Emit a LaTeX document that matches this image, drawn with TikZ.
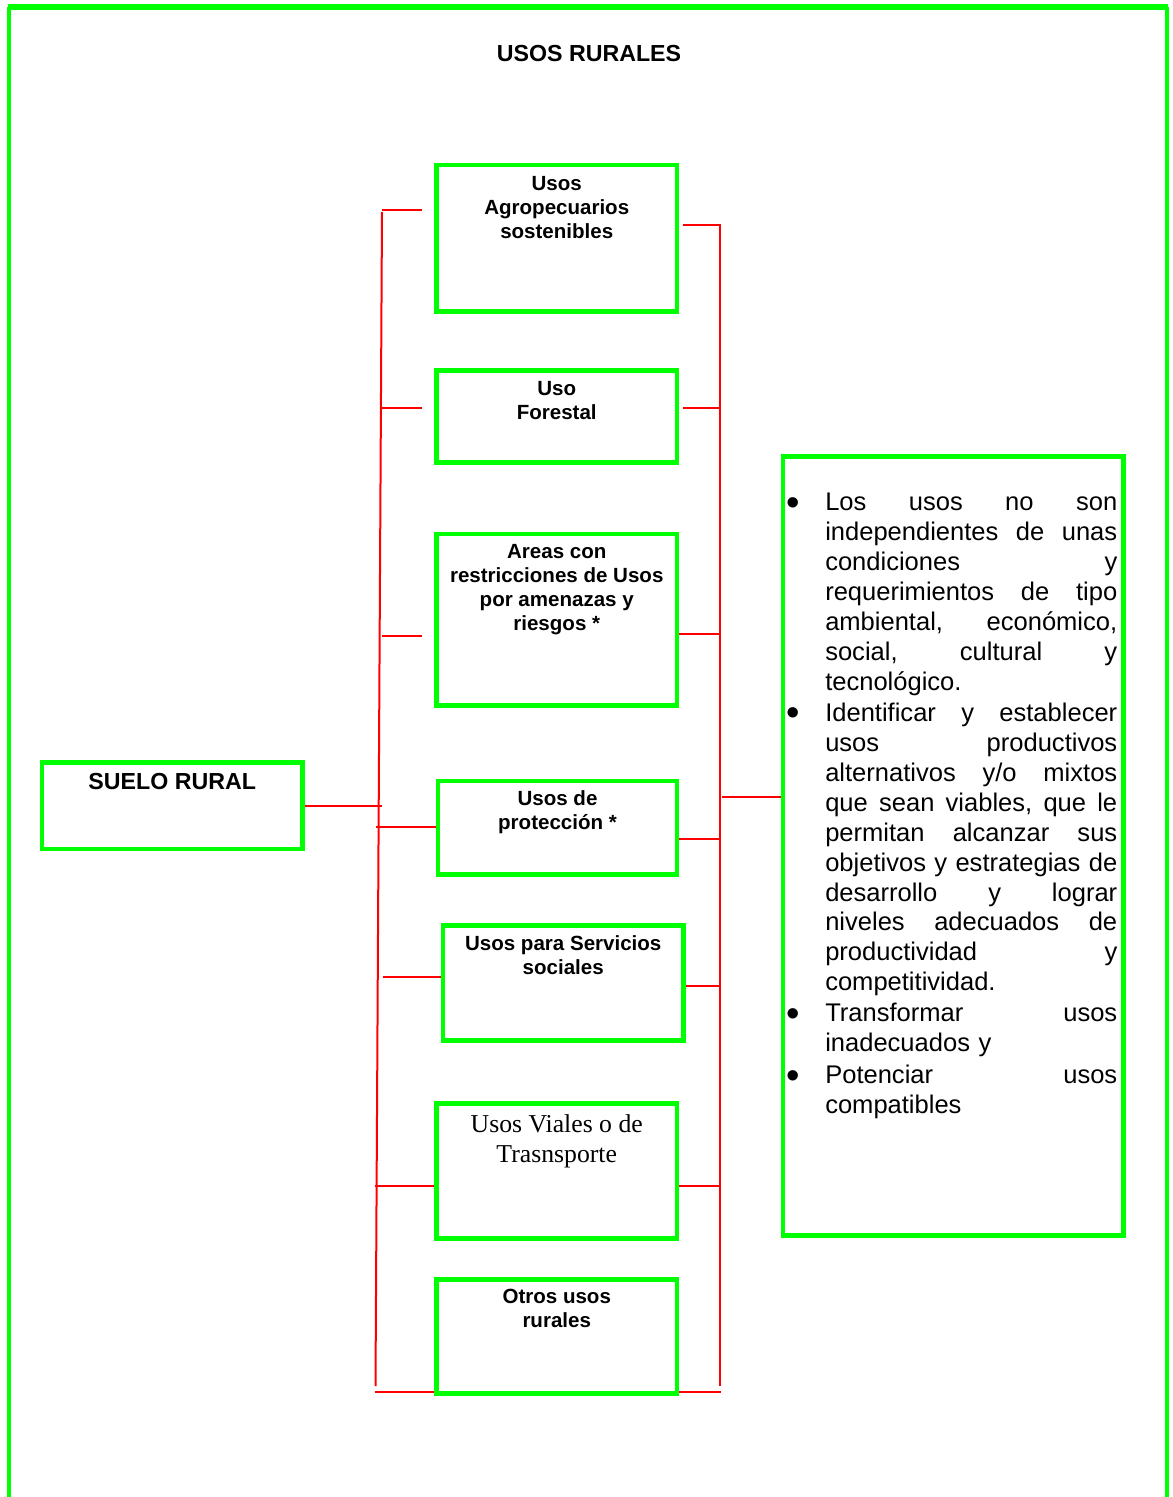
\documentclass[tikz,border=0pt]{standalone}
\usepackage{fontspec}
\usepackage{graphicx}
\newfontfamily\lsans{Liberation Sans}
\newfontfamily\tnr{Liberation Serif}
\definecolor{gr}{RGB}{0,255,0}
\definecolor{rd}{RGB}{255,0,0}
\newcommand\bul{\makebox[27.75pt][l]{\makebox[7.5pt][c]{\smash{\raisebox{-3.4pt}{\scalebox{1.5}{•}}}}}}
\newcommand\jbox[1]{\hbox to 219pt{\frenchspacing\spaceskip=\fontdimen2\font plus 1fil\relax #1}}
\newcommand\bitem[1]{\noindent\bul\jbox{#1}\par}
\newcommand\jline[1]{\noindent\hspace*{27.75pt}\jbox{#1}\par}
\newcommand\lline[1]{\noindent\hspace*{27.75pt}#1\par}
\begin{document}
\begin{tikzpicture}[x=0.75pt,y=-0.75pt,
  gbox/.style={draw=gr, line width=3.4pt, inner sep=0pt},
  lbl/.style={anchor=north, inner sep=0pt, align=center, font=\lsans\bfseries\fontsize{15.4}{18}\selectfont},
  rl/.style={draw=rd, line width=1.5pt},
  frame/.style={draw=gr, line width=2.6pt}]
\useasboundingbox (0,0) rectangle (1172,1497);
% outer frame
\draw[frame] (9,1497) -- (9,7);
\draw[frame] (1167,1497) -- (1167,7);
\draw[draw=gr, line width=4.5pt] (7.7,7) -- (1168.3,7);
% title
\node[anchor=north, inner sep=0pt, font=\lsans\bfseries\fontsize{17.4}{20}\selectfont] (title) at (589,45) {USOS RURALES};
% boxes
\node[gbox, minimum width=180.4pt, minimum height=109.9pt] (b1) at (556.75,238.25) {};
\node[gbox, minimum width=180.4pt, minimum height=69pt] (b2) at (556.75,416.5) {};
\node[gbox, minimum width=180.4pt, minimum height=128.6pt] (b3) at (556.75,619.75) {};
\node[gbox, minimum width=179.25pt, minimum height=70.1pt] (b4) at (557.5,827.75) {};
\node[gbox, minimum width=180.4pt, minimum height=86.25pt] (b5) at (563.25,983) {};
\node[gbox, minimum width=180.4pt, minimum height=101.25pt] (b6) at (556.75,1171) {};
\node[gbox, minimum width=180.4pt, minimum height=85.5pt] (b7) at (556.75,1336.5) {};
\node[gbox, minimum width=195.4pt, minimum height=64.9pt] (sr) at (172.25,805.75) {};
\node[gbox, minimum width=255.4pt, minimum height=584.25pt] (rb) at (953.25,846) {};
% labels
\node[lbl] (t1) at (556.75,176) {Usos\\Agropecuarios\\sostenibles};
\node[lbl] (t2) at (556.75,381) {Uso\\Forestal};
\node[lbl] (t3) at (556.75,544.5) {Areas con\\restricciones de Usos\\por amenazas y\\riesgos *};
\node[lbl] (t4) at (557.5,790.5) {Usos de\\protección *};
\node[lbl] (t5) at (563.25,935.5) {Usos para Servicios\\sociales};
\node[anchor=north, inner sep=0pt, align=center, font=\tnr\fontsize{19.3}{22.6}\selectfont] (t6) at (556.75,1114) {Usos Viales o de\\Trasnsporte};
\node[lbl] (t7) at (556.75,1289) {Otros usos\\rurales};
\node[anchor=north, inner sep=0pt, font=\lsans\bfseries\fontsize{17.4}{20}\selectfont] (tsr) at (172.25,773) {SUELO RURAL};
% right text
\node[anchor=north west, inner sep=0pt, text width=247pt, font=\lsans\fontsize{19.15}{22.45}\selectfont] (rt) at (788,493) {%
\setlength\parskip{0pt}%
\bitem{Los usos no son}
\jline{independientes de unas}
\jline{condiciones y}
\jline{requerimientos de tipo}
\jline{ambiental, económico,}
\jline{social, cultural y}
\lline{tecnológico.}
\vspace*{0.8pt}
\bitem{Identificar y establecer}
\jline{usos productivos}
\jline{alternativos y/o mixtos}
\jline{que sean viables, que le}
\jline{permitan alcanzar sus}
\jline{objetivos y estrategias de}
\jline{desarrollo y lograr}
\jline{niveles adecuados de}
\jline{productividad y}
\lline{competitividad.}
\vspace*{0.8pt}
\bitem{Transformar usos}
\lline{inadecuados y}
\vspace*{1.5pt}
\bitem{Potenciar usos}
\lline{compatibles}};
% buses
\coordinate (LT) at (382,212);
\coordinate (LB) at (375.5,1386);
\coordinate (RT) at (720,224.5);
\coordinate (RB) at (720,1386);
\draw[rl] (LT) -- (LB);
\draw[rl] (RT) -- (RB);
% left stubs
\coordinate (l1) at (382,210);
\coordinate (l2) at (381,407.7);
\coordinate (l3) at (382,636);
\coordinate (l4) at (375.5,827.3);
\coordinate (l5) at (382.6,977);
\coordinate (l6) at (375.3,1186);
\coordinate (l7) at (375,1391.7);
\draw[rl] (l1) -- ++(40,0);
\draw[rl] (l2) -- ++(41,0);
\draw[rl] (l3) -- ++(40,0);
\draw[rl] (l4) -- (b4.west |- l4);
\draw[rl] (l5) -- (b5.west |- l5);
\draw[rl] (l6) -- (b6.west |- l6);
\draw[rl] (l7) -- (b7.west |- l7);
% right stubs
\coordinate (r1) at (721,225.3);
\coordinate (r2) at (720,407.7);
\coordinate (r3) at (720,634.3);
\coordinate (r4) at (720,839.3);
\coordinate (r5) at (720,986);
\coordinate (r6) at (720,1186);
\coordinate (r7) at (720.7,1391.7);
\draw[rl] (r1) -- ++(-37.7,0);
\draw[rl] (r2) -- ++(-37,0);
\draw[rl] (r3) -- (b3.east |- r3);
\draw[rl] (r4) -- (b4.east |- r4);
\draw[rl] (r5) -- (b5.east |- r5);
\draw[rl] (r6) -- (b6.east |- r6);
\draw[rl] (r7) -- (b7.east |- r7);
% connectors to main boxes
\coordinate (sl) at (381.6,806.3);
\draw[rl] (sr.east |- sl) -- (sl);
\coordinate (rr) at (722,797.3);
\draw[rl] (rr) -- (rb.west |- rr);
\end{tikzpicture}
\end{document}
